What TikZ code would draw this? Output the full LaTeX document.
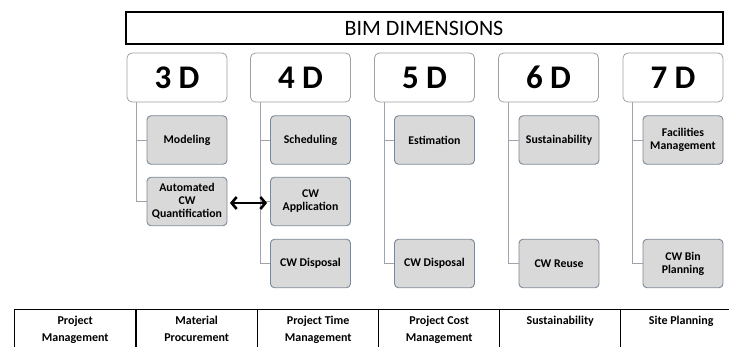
\documentclass[tikz,border=0pt]{standalone}
\usepackage{fontspec}
\setmainfont{Carlito}
\usetikzlibrary{arrows.meta}
\definecolor{childfill}{HTML}{D9D9D9}
\definecolor{childdraw}{HTML}{7D8896}
\definecolor{parentdraw}{HTML}{A0A0A0}
\definecolor{linkcol}{HTML}{A0A4A8}
\tikzset{
  parentbox/.style={draw=parentdraw, line width=0.8pt, rounded corners=5pt, fill=white,
    minimum width=100pt, minimum height=49pt, inner sep=0pt,
    font=\fontsize{33}{35}\selectfont\bfseries},
  childbox/.style={draw=childdraw, line width=0.9pt, rounded corners=4pt, fill=childfill,
    minimum width=80pt, minimum height=48.5pt, inner sep=1pt, align=center,
    font=\fontsize{11.8}{13}\selectfont\bfseries},
  link/.style={draw=linkcol, line width=0.9pt},
  cellbox/.style={draw=black, line width=1.4pt, minimum width=121pt, minimum height=60pt, anchor=north west, inner sep=0pt},
  celltext/.style={anchor=north, align=center, font=\fontsize{12}{17}\selectfont\bfseries, inner sep=0pt},
}
\begin{document}
\begin{tikzpicture}[x=1pt,y=-1pt]
\useasboundingbox (0,0) rectangle (729,347);
\clip (0,0) rectangle (729,347);
% title
\node[draw=black, line width=2pt, minimum width=597pt, minimum height=32pt, inner sep=0pt,
  font=\fontsize{22}{26}\selectfont] (title) at (424,28.5) {BIM DIMENSIONS};
% parents
\node[parentbox] (d3) at (177,77.5) {3 D};
\node[parentbox] (d4) at (300.5,77.5) {4 D};
\node[parentbox] (d5) at (424.5,77.5) {5 D};
\node[parentbox] (d6) at (548.5,77.5) {6 D};
\node[parentbox] (d7) at (673,77.5) {7 D};
% children
\node[childbox] (mod) at (187,140) {Modeling};
\node[childbox] (acq) at (187,201.5) {Automated\\CW\\Quantification};
\node[childbox] (sch) at (310.5,140) {Scheduling};
\node[childbox] (cwa) at (310.5,201.5) {CW\\Application};
\node[childbox] (cwd4) at (310.5,263.5) {CW Disposal};
\node[childbox] (est) at (434.5,140) {Estimation};
\node[childbox] (cwd5) at (434.5,263.5) {CW Disposal};
\node[childbox] (sus) at (559,140) {Sustainability};
\node[childbox] (reu) at (559,263.5) {CW Reuse};
\node[childbox] (fac) at (683,140) {Facilities\\Management};
\node[childbox] (bin) at (683,263.5) {CW Bin\\Planning};
% links
\path[link] ([xshift=10pt]d3.south west) |- (mod.west);
\path[link] ([xshift=10pt]d3.south west) |- (acq.west);
\path[link] ([xshift=10pt]d4.south west) |- (sch.west);
\path[link] ([xshift=10pt]d4.south west) |- (cwa.west);
\path[link] ([xshift=10pt]d4.south west) |- (cwd4.west);
\path[link] ([xshift=10pt]d5.south west) |- (est.west);
\path[link] ([xshift=10pt]d5.south west) |- (cwd5.west);
\path[link] ([xshift=10pt]d6.south west) |- (sus.west);
\path[link] ([xshift=10pt]d6.south west) |- (reu.west);
\path[link] ([xshift=10pt]d7.south west) |- (fac.west);
\path[link] ([xshift=10pt]d7.south west) |- (bin.west);
% arrow
\draw[line width=2.6pt, {Straight Barb[length=5pt,width=12pt]}-{Straight Barb[length=5pt,width=12pt]},
  shorten <=2.5pt, shorten >=3pt] ([yshift=-1.5pt]acq.east) -- ([yshift=-1.5pt]cwa.west);
% table
\node[cellbox] (t1) at (14,309) {};
\node[cellbox] (t2) at (135.5,309) {};
\node[cellbox] (t3) at (257,309) {};
\node[cellbox] (t4) at (378,309) {};
\node[cellbox] (t5) at (499,309) {};
\node[cellbox] (t6) at (620,309) {};
\node[celltext] at ([yshift=-7pt]t1.north) {Project\\Management};
\node[celltext] at ([yshift=-7pt]t2.north) {Material\\Procurement};
\node[celltext] at ([yshift=-7pt]t3.north) {Project Time\\Management};
\node[celltext] at ([yshift=-7pt]t4.north) {Project Cost\\Management};
\node[celltext] at ([yshift=-7pt]t5.north) {Sustainability};
\node[celltext] at ([yshift=-7pt]t6.north) {Site Planning};
\end{tikzpicture}
\end{document}
